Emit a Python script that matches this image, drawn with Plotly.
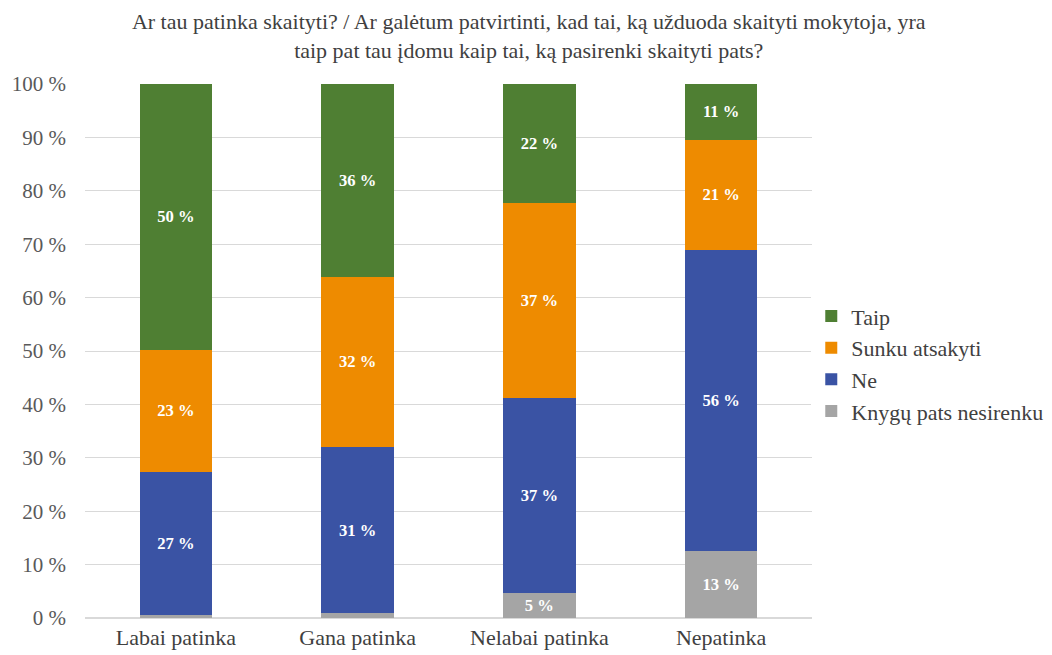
import plotly.graph_objects as go

categories = ["Labai patinka", "Gana patinka", "Nelabai patinka", "Nepatinka"]
series_names = ["Knygų pats nesirenku", "Ne", "Sunku atsakyti", "Taip"]
knygu = [0.6, 0.9, 4.6, 12.6]
ne = [26.7, 31.1, 36.6, 56.3]
sunku = [22.9, 31.9, 36.6, 20.6]
taip = [49.8, 36.1, 22.2, 10.5]
colors = ["#A5A5A5", "#3A53A4", "#EE8B00", "#4F7F33"]

title = ("Ar tau patinka skaityti? / Ar galėtum patvirtinti, kad tai, ką užduoda skaityti mokytoja, yra<br>"
         "taip pat tau įdomu kaip tai, ką pasirenki skaityti pats?")

fig = go.Figure()
for name, vals, col in zip(series_names, [knygu, ne, sunku, taip], colors):
    labels = [f"{round(v + 0.01)} %" if v >= 3 else "" for v in vals]
    fig.add_trace(go.Bar(
        x=categories, y=vals, name=name, marker=dict(color=col, line=dict(width=0)),
        text=labels, textposition="inside", insidetextanchor="middle",
        textfont=dict(family="Liberation Serif", size=17, color="white"),
        texttemplate="<b>%{text}</b>", textangle=0, hoverinfo="skip",
    ))

fig.update_layout(
    barmode="stack", bargap=0.6,
    width=1052, height=655,
    margin=dict(l=77, r=248, t=76, b=45, autoexpand=False),
    paper_bgcolor="white", plot_bgcolor="white",
    font=dict(family="Liberation Serif", size=22, color="#595959"),
    title=dict(text=title, x=0.495, xanchor="center", xref="container", y=0.968, yanchor="top",
               yref="container",
               font=dict(family="Liberation Serif", size=22, color="#404040")),
    legend=dict(traceorder="reversed", x=0.999, y=0.476, xanchor="left", yanchor="middle",
                font=dict(size=22, color="#404040"), itemwidth=30),
    uniformtext=dict(minsize=10, mode="show"),
)
fig.update_yaxes(range=[0, 100], dtick=10, ticksuffix=" %", gridcolor="#D9D9D9",
                 showline=False, zeroline=True, zerolinecolor="#D9D9D9", ticks="",
                 ticklabelstandoff=18,
                 tickfont=dict(size=21, color="#595959"))
fig.update_xaxes(showline=True, linecolor="#D9D9D9", ticks="",
                 tickfont=dict(size=22, color="#404040"))

fig.write_html("out.html")
